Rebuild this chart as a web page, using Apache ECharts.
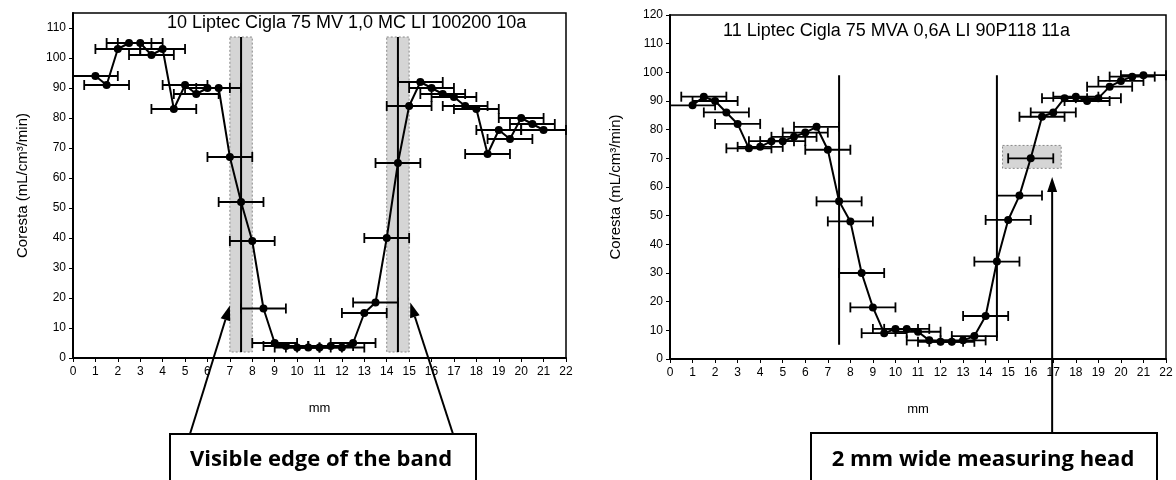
<!DOCTYPE html>
<html>
<head>
<meta charset="utf-8">
<script src="https://cdn.jsdelivr.net/npm/echarts@6/dist/echarts.min.js"></script>
<style>
html, body { margin: 0; padding: 0; background: #fff; }
#chart { width: 1176px; height: 480px; }
</style>
</head>
<body>
<div id="chart"></div>
<script>
// measuring positions (mm), same for both samples
const positions = [1, 1.5, 2, 2.5, 3, 3.5, 4, 4.5, 5, 5.5, 6, 6.5, 7, 7.5, 8, 8.5, 9, 9.5, 10, 10.5,
  11, 11.5, 12, 12.5, 13, 13.5, 14, 14.5, 15, 15.5, 16, 16.5, 17, 17.5, 18, 18.5, 19, 19.5, 20, 20.5, 21]

// Coresta values (mL/cm3/min)
const leftValues = [94, 91, 103, 105, 105, 101, 103, 83, 91, 88, 90, 90, 67, 52, 39, 16.5, 5, 4, 3.5, 3.5,
  3.5, 4, 3.5, 5, 15, 18.5, 40, 65, 84, 92, 90, 88, 87, 84, 83, 68, 76, 73, 80, 78, 76]
const rightValues = [88.5, 91.5, 90, 86, 82, 73.5, 74, 76, 76, 77.5, 79, 81, 73, 55, 48, 30, 18, 9, 10.5, 10.5,
  9.5, 6.5, 6, 6, 6.5, 8, 15, 34, 48.5, 57, 70, 84.5, 86, 91, 91.5, 90, 91, 95, 97, 98.5, 99]

const headHalfWidth = 1 // 2 mm wide measuring head

const leftTitle = '10 Liptec Cigla 75 MV 1,0 MC LI 100200 10a'
const rightTitle = '11 Liptec Cigla 75 MVA 0,6A LI 90P118 11a'
const yName = 'Coresta (mL/cm³/min)'

// visible band edges: [x0, y0, x1, y1] and centre lines [x, y0, y1]
const leftBands = [[7, 2, 8, 107], [14, 2, 15, 107]]
const leftEdges = [[7.5, 2, 107], [14.5, 2, 107]]
const rightEdges = [[7.5, 5, 99], [14.5, 7.5, 99]]
const rightHeadBox = [[14.75, 66.5, 17.35, 74.5]]

// arrow tips in data coords
const leftTips = [[7.0, 17.5], [15.05, 18.5]]
const rightTip = [16.95, 63.5]

const font = '"Liberation Sans", Arial, sans-serif'
const boxFont = 'bold 22px "Open Sans", sans-serif'

function pts (vals) {
  return positions.map((x, i) => [x, vals[i]])
}
function errs (vals) {
  return positions.map((x, i) => [x, vals[i], x - headHalfWidth, x + headHalfWidth])
}

function renderErr (params, api) {
  const y = api.value(1)
  const p0 = api.coord([api.value(2), y])
  const p1 = api.coord([api.value(3), y])
  const st = { stroke: '#000', lineWidth: 1.8 }
  return {
    type: 'group',
    children: [
      { type: 'line', shape: { x1: p0[0], y1: p0[1], x2: p1[0], y2: p1[1] }, style: st },
      { type: 'line', shape: { x1: p0[0], y1: p0[1] - 5, x2: p0[0], y2: p0[1] + 5 }, style: st },
      { type: 'line', shape: { x1: p1[0], y1: p1[1] - 5, x2: p1[0], y2: p1[1] + 5 }, style: st }
    ]
  }
}
function renderRect (params, api) {
  const a = api.coord([api.value(0), api.value(3)])
  const b = api.coord([api.value(2), api.value(1)])
  return {
    type: 'rect',
    shape: { x: a[0], y: a[1], width: b[0] - a[0], height: b[1] - a[1] },
    style: { fill: 'rgba(150,150,150,0.4)', stroke: '#888', lineWidth: 1, lineDash: [2, 2] }
  }
}
function renderVLine (params, api) {
  const a = api.coord([api.value(0), api.value(1)])
  const b = api.coord([api.value(0), api.value(2)])
  return { type: 'line', shape: { x1: a[0], y1: a[1], x2: b[0], y2: b[1] }, style: { stroke: '#000', lineWidth: 2 } }
}

function xAxis (gi) {
  return {
    type: 'value', gridIndex: gi, min: 0, max: 22, interval: 1,
    name: 'mm', nameLocation: 'middle', nameGap: 44,
    nameTextStyle: { color: '#000', fontSize: 13, fontFamily: font },
    axisLine: { lineStyle: { color: '#000', width: 2 } },
    axisTick: { length: 4, lineStyle: { color: '#000' } },
    axisLabel: { color: '#000', fontSize: 12, fontFamily: font, margin: 8 },
    splitLine: { show: false }
  }
}
function yAxis (gi, max, gap) {
  return {
    type: 'value', gridIndex: gi, min: 0, max: max, interval: 10,
    name: yName, nameLocation: 'middle', nameGap: gap,
    nameTextStyle: { color: '#000', fontSize: 15, fontFamily: font },
    axisLine: { lineStyle: { color: '#000', width: 2 } },
    axisTick: { length: 4, lineStyle: { color: '#000' } },
    axisLabel: { color: '#000', fontSize: 12, fontFamily: font, margin: 7, showMaxLabel: max % 10 === 0 },
    splitLine: { show: false }
  }
}

function lineSeries (gi, vals) {
  return {
    type: 'line', xAxisIndex: gi, yAxisIndex: gi, data: pts(vals),
    symbol: 'circle', symbolSize: 8, z: 5,
    itemStyle: { color: '#000' }, lineStyle: { color: '#000', width: 2 }
  }
}

const staticGraphic = [
  { type: 'text', left: 167, top: 14, style: { text: leftTitle, font: '18px ' + font, fill: '#000' } },
  { type: 'text', left: 723, top: 22, style: { text: rightTitle, font: '18px ' + font, fill: '#000' } },
  { type: 'rect', shape: { x: 170, y: 434, width: 306, height: 60 }, style: { fill: '#fff', stroke: '#000', lineWidth: 2 } },
  { type: 'text', style: { text: 'Visible edge of the band', x: 321, y: 460, align: 'center', verticalAlign: 'middle', font: boxFont, fill: '#000' } },
  { type: 'rect', shape: { x: 811, y: 433, width: 346, height: 60 }, style: { fill: '#fff', stroke: '#000', lineWidth: 2 } },
  { type: 'text', style: { text: '2 mm wide measuring head', x: 983, y: 460, align: 'center', verticalAlign: 'middle', font: boxFont, fill: '#000' } }
]

const chart = echarts.init(document.getElementById('chart'))
chart.setOption({
  animation: false,
  backgroundColor: '#fff',
  grid: [
    { left: 73, top: 13, width: 493, height: 345, show: true, borderColor: '#000', borderWidth: 1.5, backgroundColor: '#fff' },
    { left: 670, top: 15, width: 496, height: 344, show: true, borderColor: '#000', borderWidth: 1.5, backgroundColor: '#fff' }
  ],
  xAxis: [xAxis(0), xAxis(1)],
  yAxis: [yAxis(0, 115, 43), yAxis(1, 120, 47)],
  series: [
    { type: 'custom', xAxisIndex: 0, yAxisIndex: 0, data: leftBands, renderItem: renderRect, z: 1 },
    { type: 'custom', xAxisIndex: 0, yAxisIndex: 0, data: leftEdges, renderItem: renderVLine, z: 2 },
    { type: 'custom', xAxisIndex: 0, yAxisIndex: 0, data: errs(leftValues), renderItem: renderErr, z: 3 },
    lineSeries(0, leftValues),
    { type: 'custom', xAxisIndex: 1, yAxisIndex: 1, data: rightHeadBox, renderItem: renderRect, z: 1 },
    { type: 'custom', xAxisIndex: 1, yAxisIndex: 1, data: rightEdges, renderItem: renderVLine, z: 2 },
    { type: 'custom', xAxisIndex: 1, yAxisIndex: 1, data: errs(rightValues), renderItem: renderErr, z: 3 },
    lineSeries(1, rightValues)
  ],
  graphic: staticGraphic
})

function arrow (from, to) {
  const dx = to[0] - from[0]
  const dy = to[1] - from[1]
  const len = Math.hypot(dx, dy)
  const ux = dx / len
  const uy = dy / len
  const hl = 15
  const hw = 5
  const bx = to[0] - ux * hl
  const by = to[1] - uy * hl
  return [
    { type: 'line', z: 100, shape: { x1: from[0], y1: from[1], x2: bx, y2: by }, style: { stroke: '#000', lineWidth: 2 } },
    { type: 'polygon', z: 100, shape: { points: [to, [bx - uy * hw, by + ux * hw], [bx + uy * hw, by - ux * hw]] }, style: { fill: '#000' } }
  ]
}

const t1 = chart.convertToPixel({ xAxisIndex: 0, yAxisIndex: 0 }, leftTips[0])
const t2 = chart.convertToPixel({ xAxisIndex: 0, yAxisIndex: 0 }, leftTips[1])
const t3 = chart.convertToPixel({ xAxisIndex: 1, yAxisIndex: 1 }, rightTip)
chart.setOption({
  graphic: staticGraphic
    .concat(arrow([190, 434], t1))
    .concat(arrow([453, 434], t2))
    .concat(arrow([t3[0], 433], t3))
})
</script>
</body>
</html>
